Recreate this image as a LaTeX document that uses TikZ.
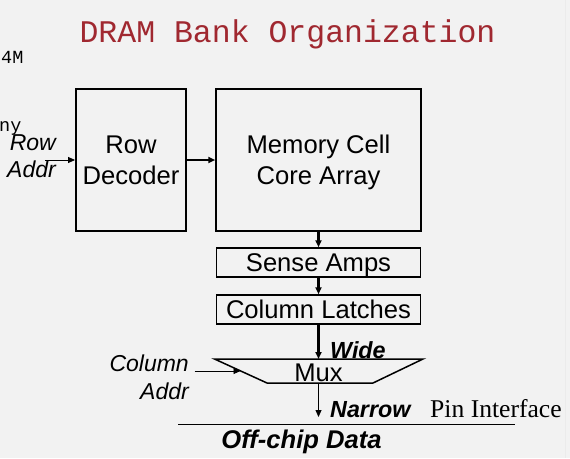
\documentclass[tikz,border=0pt]{standalone}
\usepackage{fontspec}
\setmainfont{Liberation Serif}
\setsansfont{Liberation Sans}
\setmonofont{Liberation Mono}
\usetikzlibrary{arrows.meta}
\definecolor{slidebg}{RGB}{242,242,242}
\definecolor{titlered}{RGB}{160,40,48}

\begin{document}
\begin{tikzpicture}[x=1pt, y=-1pt,
    box/.style={draw, line width=1.5pt, inner sep=0pt, text depth=0pt, align=center,
        font=\sffamily\fontsize{25.6}{31}\selectfont},
    lbl/.style={inner sep=0pt, font=\sffamily\itshape\fontsize{23}{27}\selectfont},
    bwlbl/.style={inner sep=0pt, font=\sffamily\bfseries\itshape\fontsize{23.3}{27}\selectfont},
    tip/.style={-{Triangle[length=7pt,width=6pt]}}]
    \useasboundingbox (0,0) rectangle (570,458);
    \fill [slidebg] (0,0) rectangle (570,458);
    \draw [black!8, line width=1pt] (565,0) -- (565,458);
    \node [anchor=base, inner sep=0pt, text=titlered, font=\ttfamily\fontsize{31.5}{36}\selectfont]
        (title) at (287.5,42) {DRAM Bank Organization};
    \node [anchor=base west, inner sep=0pt, font=\ttfamily\fontsize{18.5}{20}\selectfont] (frag1) at (1,63) {4M};
    \node [anchor=base west, inner sep=0pt, font=\ttfamily\fontsize{18.5}{20}\selectfont] (frag2) at (-1,131) {ny};
    \node [box, minimum width=110.4pt, minimum height=142pt] (decoder) at (131,160) {Row\\Decoder};
    \node [box, minimum width=205pt, minimum height=142pt] (memory) at (318.5,160) {Memory Cell\\Core Array};
    \node [box, minimum width=204pt, minimum height=29pt] (sense) at (318.5,262.5) {Sense Amps};
    \node [box, minimum width=204pt, minimum height=29pt] (latches) at (318.5,309.5) {Column Latches};
    \coordinate (muxtl) at (214.5,359);
    \coordinate (muxtr) at (423,359);
    \coordinate (muxbr) at (373,383);
    \coordinate (muxbl) at (267,383);
    \draw [line width=1.5pt, line join=miter] (muxtl) -- (muxtr) -- (muxbr) -- (muxbl) -- cycle;
    \node [anchor=base, inner sep=0pt, font=\sffamily\fontsize{25.6}{30}\selectfont] (mux) at (318.5,381.5) {Mux};
    \coordinate (muxtop) at (318.5,359);
    \coordinate (muxbot) at (318.5,383);
    \coordinate (muxin) at (240.5,371);
    \node [lbl, align=right, anchor=east] (rowaddr) at (56,156.5) {Row\\Addr};
    \node [lbl, align=right, anchor=east, font=\sffamily\itshape\fontsize{23}{28}\selectfont]
        (coladdr) at (189,377.5) {Column\\Addr};
    \coordinate (rowin) at (45,160);
    \coordinate (colin) at (194.5,371);
    \coordinate (dataout) at (318.5,417);
    \draw [tip, line width=0.8pt] (rowin) -- (decoder.west |- rowin);
    \draw [tip, line width=2pt] (decoder.east |- rowin) -- (memory.west |- rowin);
    \draw [tip, line width=2.2pt] (memory.south) -- (sense.north);
    \draw [tip, line width=2.2pt] (sense.south) -- (latches.north);
    \draw [tip, line width=3pt] (latches.south) -- (muxtop);
    \draw [tip, line width=0.8pt] (colin) -- (muxin);
    \draw [tip, line width=0.8pt] (muxbot) -- (dataout);
    \node [bwlbl, anchor=base west] (wide) at (330,358) {Wide};
    \node [bwlbl, anchor=base west] (narrow) at (330,417) {Narrow};
    \node [anchor=base west, inner sep=0pt, font=\rmfamily\fontsize{25.6}{30}\selectfont] (pins) at (430,417) {Pin Interface};
    \draw [line width=0.8pt] (178,424) -- (514.5,424);
    \node [bwlbl, anchor=base, font=\sffamily\bfseries\itshape\fontsize{25.6}{30}\selectfont] (offchip) at (301.5,448) {Off-chip Data};
\end{tikzpicture}
\end{document}
